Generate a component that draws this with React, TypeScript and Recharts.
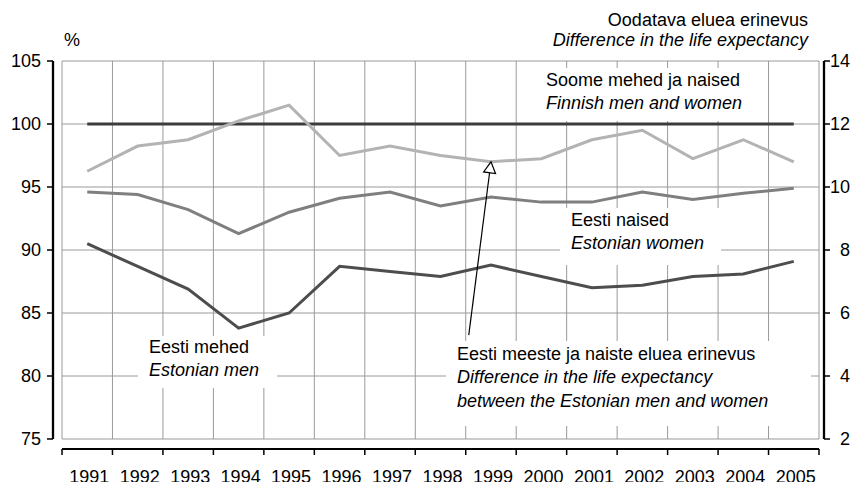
import { CartesianGrid, Line, LineChart, ReferenceLine, XAxis, YAxis } from "recharts";

const years = ["1991", "1992", "1993", "1994", "1995", "1996", "1997", "1998", "1999", "2000", "2001", "2002", "2003", "2004", "2005"];
// vasak telg, % Soome tasemest
const finland = [100, 100, 100, 100, 100, 100, 100, 100, 100, 100, 100, 100, 100, 100, 100];
const estWomen = [94.6, 94.4, 93.2, 91.3, 93.0, 94.1, 94.6, 93.5, 94.2, 93.8, 93.8, 94.6, 94.0, 94.5, 94.9];
const estMen = [90.5, 88.7, 86.9, 83.8, 85.0, 88.7, 88.3, 87.9, 88.8, 87.9, 87.0, 87.2, 87.9, 88.1, 89.1];
// parem telg, aastates
const lifeDiff = [10.5, 11.3, 11.5, 12.1, 12.6, 11.0, 11.3, 11.0, 10.8, 10.9, 11.5, 11.8, 10.9, 11.5, 10.8];

const leftTicks = [75, 80, 85, 90, 95, 100, 105];
const rightTicks = [2, 4, 6, 8, 10, 12, 14];

const data = years.map((year, i) => ({
  x: i + 0.5,
  year,
  finland: finland[i],
  women: estWomen[i],
  men: estMen[i],
  diff: lifeDiff[i],
}));

const gridTicks = years.map((_, i) => i).concat(years.length);
const yearTicks = years.map((_, i) => i + 0.5);

const FONT = "'Liberation Sans', Arial, sans-serif";
const tickText = { fill: "#000", fontSize: 18, fontFamily: FONT };

const Arrow = (props: any) => {
  const { x1, y1, x2, y2 } = props;
  const dx = x2 - x1;
  const dy = y2 - y1;
  const len = Math.sqrt(dx * dx + dy * dy) || 1;
  const ux = dx / len;
  const uy = dy / len;
  const bx = x2 - ux * 11;
  const by = y2 - uy * 11;
  const nx = -uy * 6;
  const ny = ux * 6;
  return (
    <g>
      <line x1={x1} y1={y1} x2={bx} y2={by} stroke="#000" strokeWidth={1.2} />
      <polygon
        points={`${x2},${y2} ${bx + nx},${by + ny} ${bx - nx},${by - ny}`}
        fill="#fff"
        stroke="#000"
        strokeWidth={1.2}
      />
    </g>
  );
};

const boxStyle = (left: number, top: number, width: number, height: number, padL: number, padT: number) => ({
  position: "absolute" as const,
  left,
  top,
  width: width - padL,
  height: height - padT,
  paddingLeft: padL,
  paddingTop: padT,
  background: "#fff",
  fontSize: 18,
  lineHeight: "23.3px",
  color: "#000",
  whiteSpace: "nowrap" as const,
});

const App = () => {
  return (
    <div
      style={{
        position: "absolute",
        left: 0,
        top: 0,
        width: 862,
        height: 482,
        background: "#fff",
        fontFamily: FONT,
        overflow: "hidden",
      }}
    >
      <LineChart width={862} height={482} data={data} margin={{ top: 61, right: 0, bottom: 41, left: 0 }}>
        <CartesianGrid xAxisId="grid" yAxisId="left" stroke="#9a9a9a" strokeWidth={1} />
        <XAxis
          xAxisId="grid"
          dataKey="x"
          type="number"
          domain={[0, years.length]}
          ticks={gridTicks}
          interval={0}
          height={1}
          tickSize={6}
          tickFormatter={() => ""}
          axisLine={{ stroke: "#000", strokeWidth: 2, transform: "translate(0,10)" }}
          tickLine={{ stroke: "#000", strokeWidth: 1.5, transform: "translate(0,10)" }}
        />
        <XAxis
          xAxisId="year"
          dataKey="x"
          type="number"
          domain={[0, years.length]}
          ticks={yearTicks}
          interval={0}
          height={1}
          tickSize={0}
          tickMargin={30}
          axisLine={false}
          tickLine={false}
          tick={{ ...tickText, dx: 2 }}
          tickFormatter={(v: number) => years[Math.floor(v)]}
        />
        <YAxis
          yAxisId="left"
          orientation="left"
          width={62}
          domain={[75, 105]}
          ticks={leftTicks}
          interval={0}
          tickSize={6}
          tickMargin={15}
          tick={tickText}
          axisLine={{ stroke: "#000", strokeWidth: 2.3, transform: "translate(-9,0)" }}
          tickLine={{ stroke: "#000", strokeWidth: 1.5, transform: "translate(-9,0)" }}
        />
        <YAxis
          yAxisId="right"
          orientation="right"
          width={43}
          domain={[2, 14]}
          ticks={rightTicks}
          interval={0}
          tickSize={6}
          tickMargin={25}
          tick={{ ...tickText, textAnchor: "end" }}
          axisLine={{ stroke: "#000", strokeWidth: 2.3, transform: "translate(5,0)" }}
          tickLine={{ stroke: "#000", strokeWidth: 1.5, transform: "translate(5,0)" }}
        />
        <Line
          xAxisId="year"
          yAxisId="left"
          dataKey="finland"
          stroke="#3c3c3c"
          strokeWidth={3.2}
          dot={false}
          isAnimationActive={false}
        />
        <Line
          xAxisId="year"
          yAxisId="left"
          dataKey="women"
          stroke="#7f7f7f"
          strokeWidth={3}
          dot={false}
          isAnimationActive={false}
        />
        <Line
          xAxisId="year"
          yAxisId="left"
          dataKey="men"
          stroke="#4d4d4d"
          strokeWidth={3}
          dot={false}
          isAnimationActive={false}
        />
        <Line
          xAxisId="year"
          yAxisId="right"
          dataKey="diff"
          stroke="#b3b3b3"
          strokeWidth={3}
          dot={false}
          isAnimationActive={false}
        />
        <ReferenceLine
          xAxisId="year"
          yAxisId="right"
          segment={[
            { x: 8.06, y: 5.3 },
            { x: data[8].x, y: lifeDiff[8] },
          ]}
          shape={Arrow}
        />
      </LineChart>

      <div
        style={{
          position: "absolute",
          right: 54,
          top: 9.5,
          textAlign: "right",
          fontSize: 18,
          lineHeight: "20.5px",
          whiteSpace: "nowrap",
        }}
      >
        <div>Oodatava eluea erinevus</div>
        <div style={{ fontStyle: "italic" }}>Difference in the life expectancy</div>
      </div>
      <div style={{ position: "absolute", left: 64, top: 30, fontSize: 18, lineHeight: "20.5px" }}>%</div>

      <div style={boxStyle(536, 68, 216, 53, 10, 1)}>
        <div>Soome mehed ja naised</div>
        <div style={{ fontStyle: "italic" }}>Finnish men and women</div>
      </div>
      <div style={boxStyle(560, 208, 161, 57, 11, 1)}>
        <div>Eesti naised</div>
        <div style={{ fontStyle: "italic" }}>Estonian women</div>
      </div>
      <div style={boxStyle(138, 336, 139, 52, 11, 0)}>
        <div>Eesti mehed</div>
        <div style={{ fontStyle: "italic" }}>Estonian men</div>
      </div>
      <div style={boxStyle(446, 341, 365, 85, 11, 2)}>
        <div>Eesti meeste ja naiste eluea erinevus</div>
        <div style={{ fontStyle: "italic" }}>Difference in the life expectancy</div>
        <div style={{ fontStyle: "italic" }}>between the Estonian men and women</div>
      </div>
    </div>
  );
};

export default App;
